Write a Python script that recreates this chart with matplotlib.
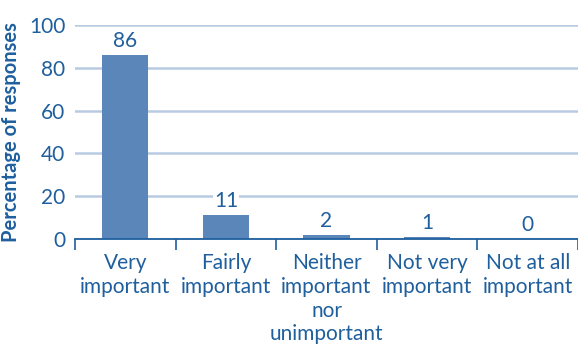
import numpy as np
import matplotlib.pyplot as plt

categories = ["Very\nimportant", "Fairly\nimportant", "Neither\nimportant\nnor\nunimportant",
              "Not very\nimportant", "Not at all\nimportant"]
values = [86, 11, 2, 1, 0]
yticks = [0, 20, 40, 60, 80, 100]

text_color = "#1f5f9e"
bar_color = "#5b86ba"
grid_color = "#b9cbe2"

plt.rcParams["font.family"] = ["Lato", "DejaVu Sans"]

fig = plt.figure(figsize=(5.78, 3.47), dpi=100)
ax = fig.add_axes([0.1298, 0.3112, 0.8702, 0.6167])

x = np.arange(len(values))
ax.bar(x, values, width=0.46, color=bar_color, zorder=2)

for xi, v in zip(x, values):
    ax.annotate(str(v), (xi, v), xytext=(0, 3), textcoords="offset points",
                ha="center", va="bottom", fontsize=15, color=text_color, zorder=3,
                bbox=dict(boxstyle="square,pad=0.05", fc="white", ec="none"))

ax.set_xlim(-0.5, len(values) - 0.5)
ax.set_ylim(0, 100)
ax.set_yticks(yticks)
ax.set_yticklabels([str(t) for t in yticks], fontsize=15, color=text_color)
ax.yaxis.grid(True, color=grid_color, linewidth=1.8, zorder=0)
ax.tick_params(axis="y", length=0, pad=7)

ax.set_xticks(x)
ax.set_xticklabels(categories, fontsize=15, color=text_color, linespacing=1.24, va="top")
ax.tick_params(axis="x", which="major", length=0, pad=10)
ax.set_xticks(np.arange(-0.5, len(values)), minor=True)
ax.tick_params(axis="x", which="minor", length=8, width=1.2, color=text_color, direction="out")

for s in ["top", "right", "left"]:
    ax.spines[s].set_visible(False)
ax.spines["bottom"].set_color(text_color)
ax.spines["bottom"].set_linewidth(1.3)
ax.spines["bottom"].set_zorder(4)

ax.set_ylabel("Percentage of responses", fontsize=14.5, color=text_color,
              fontweight="bold", labelpad=6)

fig.savefig("out.png", dpi=100)
